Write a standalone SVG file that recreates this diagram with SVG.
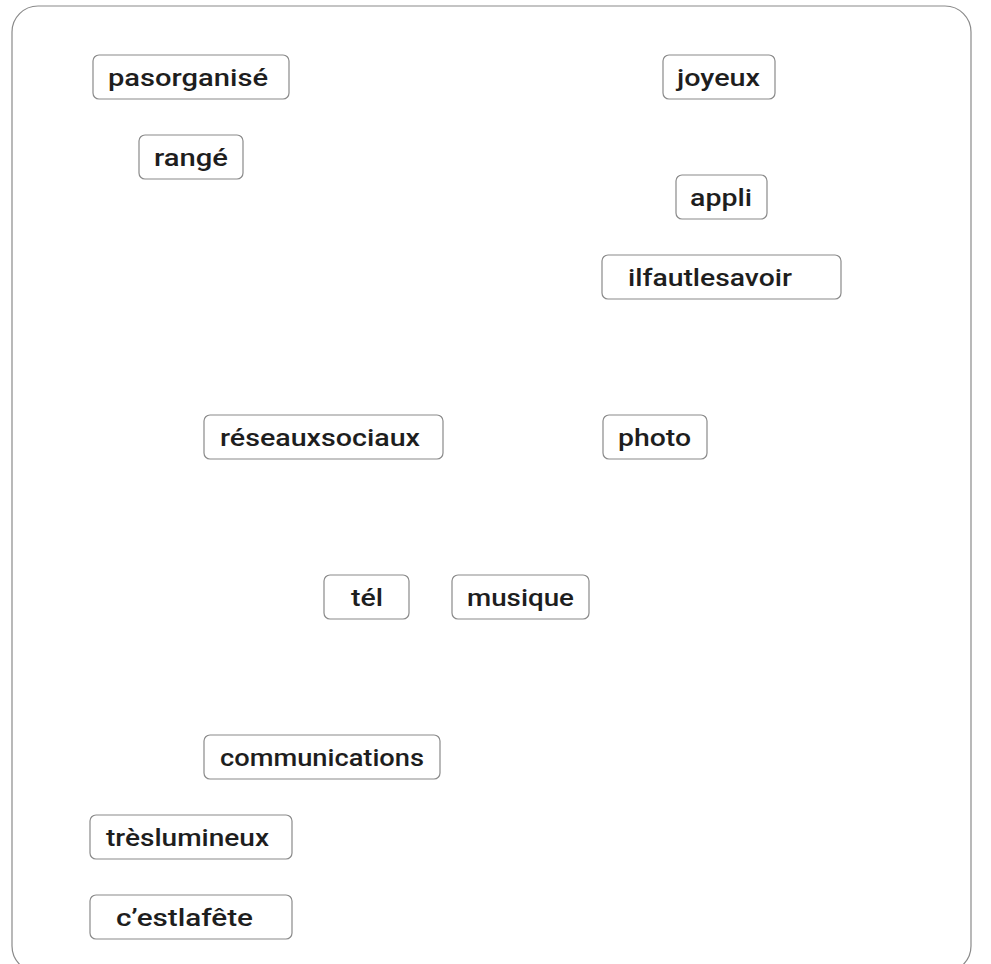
<svg xmlns="http://www.w3.org/2000/svg" width="991" height="964" viewBox="0 0 991 964">
<style>
.frame{fill:#fff;stroke:#8a8a8a;stroke-width:1.2}
.box{fill:#fff;stroke:#8a8a8a;stroke-width:1.2}
.lbl{font-family:Roboto,"Liberation Sans",sans-serif;font-weight:500;font-size:24px;fill:#1e1e1e}
</style>
<rect width="991" height="964" fill="#fff"/>
<rect class="frame" x="12" y="6" width="959" height="966" rx="26"/>
<g id="connectors"></g>
<g id="n-pasorganise"><rect class="box" x="93" y="55" width="196" height="44" rx="6"/><text class="lbl" x="108" y="86" textLength="160" lengthAdjust="spacingAndGlyphs">pasorganisé</text></g>
<g id="n-joyeux"><rect class="box" x="663" y="55" width="112" height="44" rx="6"/><text class="lbl" x="677" y="86" textLength="83" lengthAdjust="spacingAndGlyphs">joyeux</text></g>
<g id="n-range"><rect class="box" x="139" y="135" width="104" height="44" rx="6"/><text class="lbl" x="154" y="166" textLength="74" lengthAdjust="spacingAndGlyphs">rangé</text></g>
<g id="n-appli"><rect class="box" x="676" y="175" width="91" height="44" rx="6"/><text class="lbl" x="690" y="206" textLength="62" lengthAdjust="spacingAndGlyphs">appli</text></g>
<g id="n-ilfautlesavoir"><rect class="box" x="602" y="255" width="239" height="44" rx="6"/><text class="lbl" x="628" y="286" textLength="164" lengthAdjust="spacingAndGlyphs">ilfautlesavoir</text></g>
<g id="n-reseauxsociaux"><rect class="box" x="204" y="415" width="239" height="44" rx="6"/><text class="lbl" x="220" y="446" textLength="200" lengthAdjust="spacingAndGlyphs">réseauxsociaux</text></g>
<g id="n-photo"><rect class="box" x="603" y="415" width="104" height="44" rx="6"/><text class="lbl" x="618" y="446" textLength="73" lengthAdjust="spacingAndGlyphs">photo</text></g>
<g id="n-tel"><rect class="box" x="324" y="575" width="85" height="44" rx="6"/><text class="lbl" x="351" y="606" textLength="32" lengthAdjust="spacingAndGlyphs">tél</text></g>
<g id="n-musique"><rect class="box" x="452" y="575" width="137" height="44" rx="6"/><text class="lbl" x="467" y="606" textLength="107" lengthAdjust="spacingAndGlyphs">musique</text></g>
<g id="n-communications"><rect class="box" x="204" y="735" width="236" height="44" rx="6"/><text class="lbl" x="220" y="766" textLength="204" lengthAdjust="spacingAndGlyphs">communications</text></g>
<g id="n-treslumineux"><rect class="box" x="90" y="815" width="202" height="44" rx="6"/><text class="lbl" x="106" y="846" textLength="163" lengthAdjust="spacingAndGlyphs">trèslumineux</text></g>
<g id="n-cestlafete"><rect class="box" x="90" y="895" width="202" height="44" rx="6"/><text class="lbl" x="116" y="926" textLength="137" lengthAdjust="spacingAndGlyphs">c’estlafête</text></g>
</svg>
